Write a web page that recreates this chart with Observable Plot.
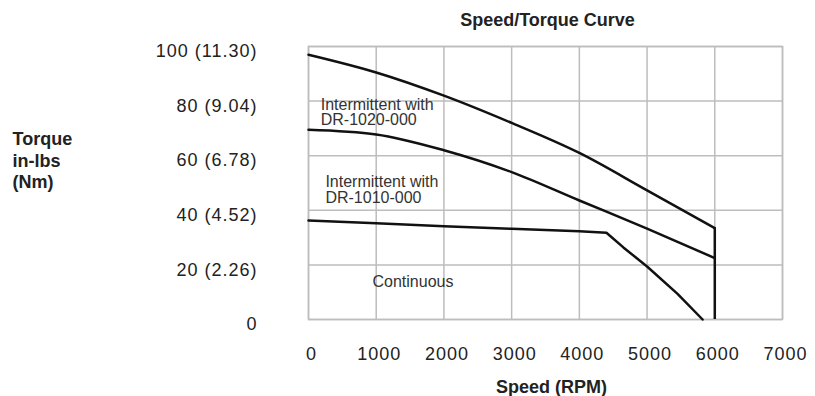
<!DOCTYPE html>
<html>
<head>
<meta charset="utf-8">
<script src="https://cdn.jsdelivr.net/npm/d3@7"></script>
<script src="https://cdn.jsdelivr.net/npm/@observablehq/plot@0.6"></script>
<style>
  html, body { margin: 0; padding: 0; background: #fff; }
</style>
</head>
<body>
<div id="chart"></div>
<script>
// ---- data ----
const titleText = "Speed/Torque Curve";
const xLabelText = "Speed (RPM)";
const yLabelText = "Torque\nin-lbs\n(Nm)";

const xTicks = [0, 1000, 2000, 3000, 4000, 5000, 6000, 7000];
const yTicks = [0, 20, 40, 60, 80, 100];
const yTickLabels = ["0", "20 (2.26)", "40 (4.52)", "60 (6.78)", "80 (9.04)", "100 (11.30)"];

const speeds = [0, 1000, 2000, 3000, 4000, 5000, 6000];
const torqueDR1020 = [97, 90.5, 82, 72, 61, 47.3, 33.5];
const torqueDR1010 = [69.5, 67.8, 62, 54, 43.6, 33.3, 22.5];

const contSpeeds = [0, 1000, 2000, 3000, 4000, 4400, 4650, 5000, 5450, 5820];
const contTorque = [36.3, 35.3, 34.2, 33.2, 32.3, 31.8, 26.4, 19.4, 9.4, 0];

const cutoffSpeed = 6000;

// side labels (start-anchored) and centered label
const sideTexts = ["Intermittent with\nDR-1020-000", "Intermittent with\nDR-1010-000"];
const sideSpeed = [180, 250];
const sideTorque = [75.8, 47.4];
const centerTexts = ["Continuous"];
const centerSpeed = [1543];
const centerTorque = [13.9];

// ---- build tables ----
const dr1020 = speeds.map((s, i) => ({speed: s, torque: torqueDR1020[i]}));
const dr1010 = speeds.map((s, i) => ({speed: s, torque: torqueDR1010[i]}));
const cont = contSpeeds.map((s, i) => ({speed: s, torque: contTorque[i]}));
const sideAnnos = sideTexts.map((t, i) => ({text: t, speed: sideSpeed[i], torque: sideTorque[i]}));
const centerAnnos = centerTexts.map((t, i) => ({text: t, speed: centerSpeed[i], torque: centerTorque[i]}));

const FONT = "'Liberation Sans', Arial, Helvetica, sans-serif";
const GRID = "#bdbdbd";

const chart = Plot.plot({
  width: 815,
  height: 396,
  marginLeft: 308,
  marginRight: 33,
  marginTop: 46,
  marginBottom: 77,
  style: {fontFamily: FONT, fontSize: "18px", color: "#222", background: "#fff"},
  x: {domain: [0, 7000]},
  y: {domain: [0, 100]},
  marks: [
    Plot.gridX(xTicks, {stroke: GRID, strokeOpacity: 1, strokeWidth: 1.5}),
    Plot.gridY(yTicks, {stroke: GRID, strokeOpacity: 1, strokeWidth: 1.5}),
    Plot.frame({stroke: GRID, strokeWidth: 1.5}),
    Plot.axisX({ticks: xTicks, tickSize: 0, tickPadding: 28, dx: 3, label: null, tickFormat: d => String(d)}),
    Plot.axisY({ticks: yTicks, tickSize: 0, tickPadding: 51, dy: 5, label: null, tickFormat: d => yTickLabels[yTicks.indexOf(d)]}),
    Plot.line(dr1020, {x: "speed", y: "torque", stroke: "#111", strokeWidth: 2.5, curve: "monotone-x"}),
    Plot.line(dr1010, {x: "speed", y: "torque", stroke: "#111", strokeWidth: 2.5, curve: "monotone-x"}),
    Plot.line(cont, {x: "speed", y: "torque", stroke: "#111", strokeWidth: 2.5, curve: "linear"}),
    Plot.ruleX([cutoffSpeed], {y1: 0, y2: torqueDR1020[torqueDR1020.length - 1], stroke: "#111", strokeWidth: 2.5}),
    Plot.text(sideAnnos, {x: "speed", y: "torque", text: "text", textAnchor: "start", lineAnchor: "middle", lineHeight: 0.97, fontSize: 16, fill: "#333"}),
    Plot.text(centerAnnos, {x: "speed", y: "torque", text: "text", textAnchor: "middle", lineAnchor: "middle", fontSize: 16, fill: "#333"}),
    Plot.text([titleText], {frameAnchor: "top", dy: -26, dx: 2, lineAnchor: "middle", fontSize: 18, fontWeight: "bold", fill: "#222", ariaLabel: "title"}),
    Plot.text([xLabelText], {frameAnchor: "bottom", dy: 68, dx: 6, lineAnchor: "middle", fontSize: 18, fontWeight: "bold", fill: "#222", ariaLabel: "xlabel"}),
    Plot.text([yLabelText], {frameAnchor: "left", dx: -296, dy: -23.5, textAnchor: "start", lineAnchor: "middle", lineHeight: 1.22, fontSize: 18, fontWeight: "bold", fill: "#222", ariaLabel: "ylabel"})
  ]
});

document.getElementById("chart").appendChild(chart);

const svg = d3.select(chart);
svg.selectAll("g[aria-label='x-axis tick label'] text, g[aria-label='y-axis tick label'] text").style("letter-spacing", "1px");
svg.selectAll("g[aria-label='title'] text, g[aria-label='xlabel'] text, g[aria-label='ylabel'] text").style("letter-spacing", "1.3px");
</script>
</body>
</html>
